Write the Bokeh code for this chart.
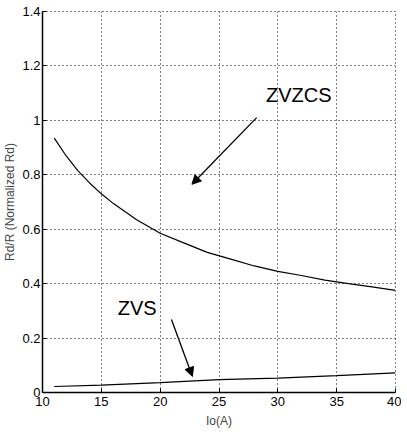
from bokeh.plotting import figure
from bokeh.models import Arrow, NormalHead, Label, Range1d, FixedTicker
from bokeh.embed import file_html
from bokeh.resources import INLINE

io_zvzcs = [11, 12, 13, 14, 15, 16, 17, 18, 19, 20, 22, 24, 26, 28, 30, 32, 34, 36, 38, 40]
rd_zvzcs = [0.935, 0.87, 0.815, 0.77, 0.73, 0.695, 0.665, 0.635, 0.61, 0.585,
            0.55, 0.515, 0.49, 0.465, 0.445, 0.43, 0.413, 0.40, 0.388, 0.375]
io_zvs = [11, 15, 20, 25, 30, 35, 40]
rd_zvs = [0.022, 0.027, 0.036, 0.047, 0.053, 0.062, 0.072]
x_ticks = [10, 15, 20, 25, 30, 35, 40]
y_ticks = [0, 0.2, 0.4, 0.6, 0.8, 1.0, 1.2, 1.4]

p = figure(frame_width=353, frame_height=381, output_backend="svg", toolbar_location=None,
           x_range=Range1d(10, 40), y_range=Range1d(0, 1.4),
           min_border_left=41, min_border_top=11, min_border_right=6, min_border_bottom=20)

p.line(io_zvzcs, rd_zvzcs, line_color="black", line_width=1.2)
p.line(io_zvs, rd_zvs, line_color="black", line_width=1.2)

font = "Liberation Sans"
for ax in (p.xaxis[0], p.yaxis[0]):
    ax.major_label_text_font = font
    ax.major_label_text_font_size = "13px"
    ax.major_label_text_color = "black"
    ax.axis_label_text_font = font
    ax.axis_label_text_font_size = "12px"
    ax.axis_label_text_font_style = "normal"
    ax.axis_line_color = "black"
    ax.axis_line_width = 1.5
    ax.major_tick_in = 4
    ax.major_tick_out = 0
    ax.minor_tick_line_color = None
    ax.major_tick_line_color = "black"
    ax.major_label_standoff = 2
    ax.axis_label_standoff = 2

p.xaxis.major_label_standoff = 4
p.xaxis.axis_label_standoff = 5
p.xaxis.ticker = FixedTicker(ticks=x_ticks)
p.yaxis.ticker = FixedTicker(ticks=y_ticks)
p.yaxis.major_label_overrides = {0: "0", 1.0: "1"}
p.xaxis.axis_label = "Io(A)"
p.yaxis.axis_label = "Rd/R (Normalized Rd)"

p.grid.grid_line_color = "black"
p.grid.grid_line_dash = "1 3"
p.grid.grid_line_width = 1
p.outline_line_color = "black"
p.outline_line_dash = "1 3"
p.background_fill_color = "white"
p.border_fill_color = "white"

p.add_layout(Arrow(end=NormalHead(size=9, fill_color="black", line_color="black"),
                   x_start=28.2, y_start=1.01, x_end=22.7, y_end=0.765,
                   line_color="black", line_width=1.3))
p.add_layout(Arrow(end=NormalHead(size=9, fill_color="black", line_color="black"),
                   x_start=20.96, y_start=0.268, x_end=22.74, y_end=0.059,
                   line_color="black", line_width=1.3))
p.add_layout(Label(x=29.0, y=1.095, text="ZVZCS", text_font=font, text_font_size="20px",
                   text_baseline="middle", text_color="black"))
p.add_layout(Label(x=16.4, y=0.31, text="ZVS", text_font=font, text_font_size="20px",
                   text_baseline="middle", text_color="black"))

open("out.html", "w").write(file_html(p, INLINE))
